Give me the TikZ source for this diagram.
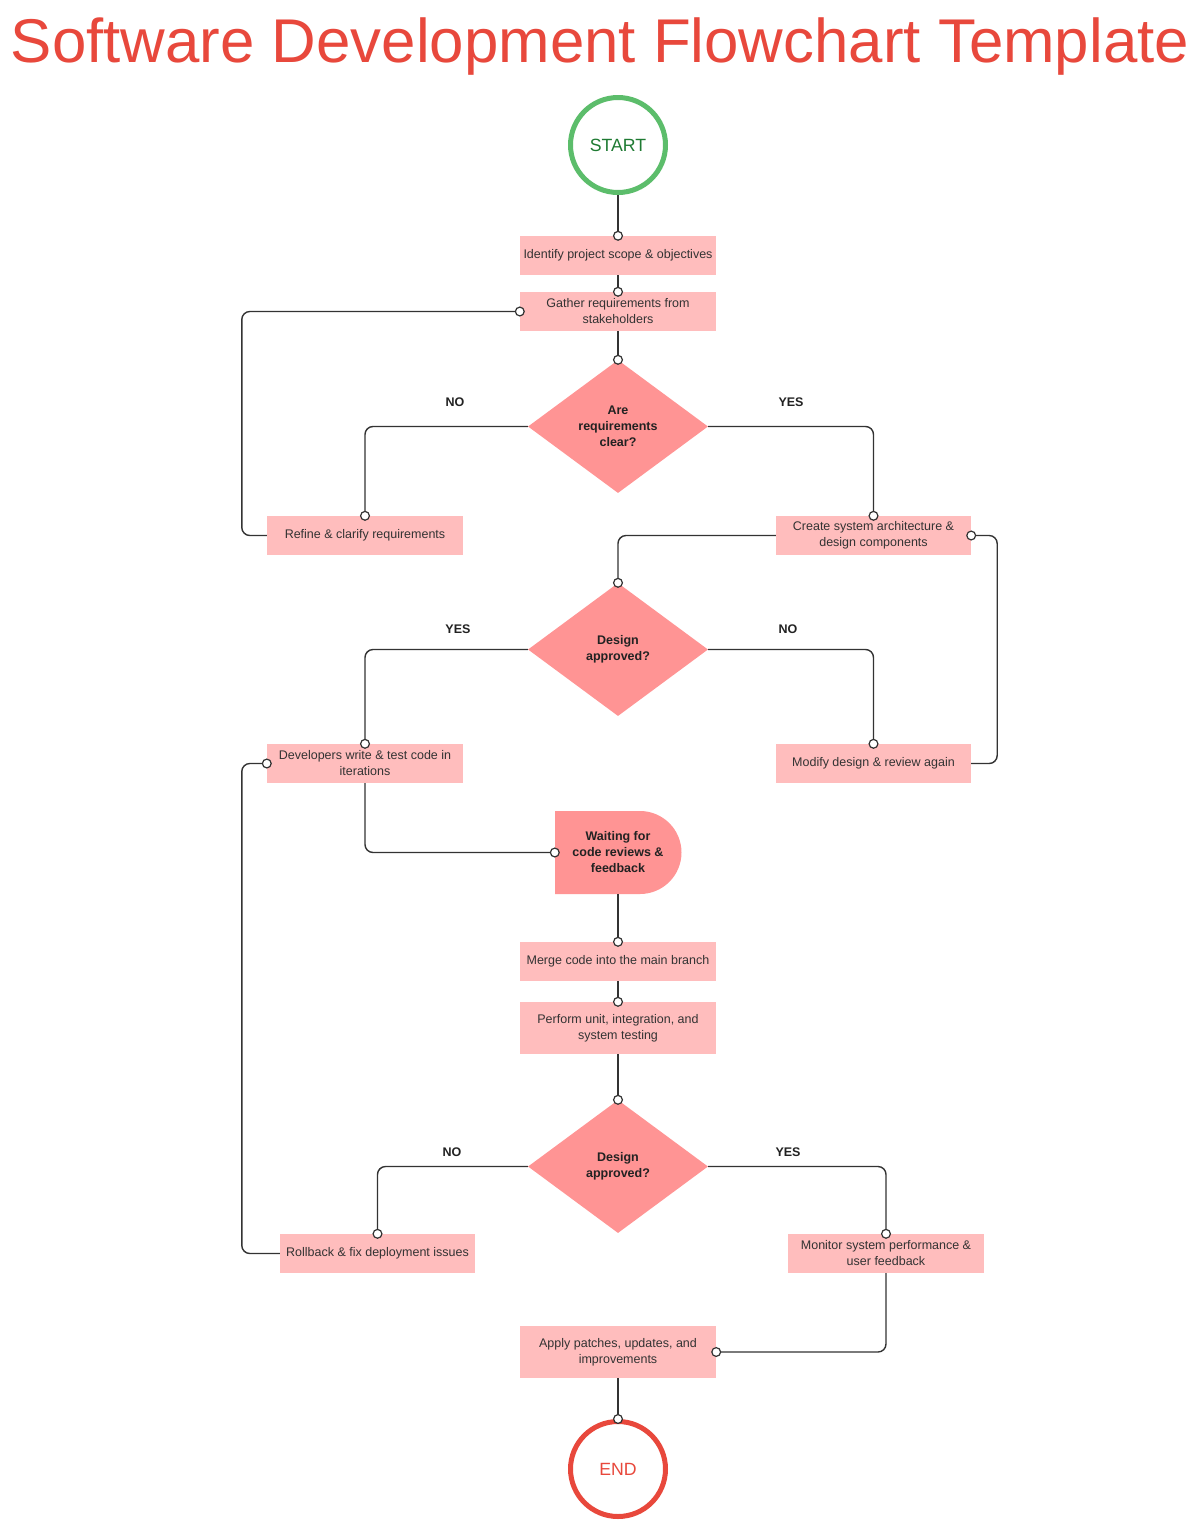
\documentclass[tikz,border=0pt]{standalone}
\usepackage{fontspec}
\setmainfont{Liberation Sans}
\usetikzlibrary{shapes.geometric,arrows.meta}
\definecolor{boxfill}{HTML}{FFBDBD}
\definecolor{decfill}{HTML}{FF9494}
\definecolor{linec}{HTML}{333333}
\definecolor{txt}{HTML}{333333}
\definecolor{dtxt}{HTML}{222222}
\definecolor{startg}{HTML}{5CBD6B}
\definecolor{startt}{HTML}{1E7A32}
\definecolor{endr}{HTML}{E8483C}
\begin{document}
\begin{tikzpicture}[x=1pt,y=-1pt,
 procbox/.style={rectangle, fill=boxfill, minimum width=196pt, minimum height=39pt, inner sep=2pt, align=center, text=txt, font=\fontsize{12.5}{16}\selectfont},
 decbox/.style={diamond, fill=decfill, minimum width=180pt, minimum height=133pt, inner sep=0pt, aspect=1.35, align=center, font=\bfseries\fontsize{12.5}{16}\selectfont, text=dtxt},
 termnode/.style={circle, line width=5pt, minimum size=95pt, inner sep=0pt, font=\fontsize{17.7}{20}\selectfont},
 conn/.style={draw=linec, line width=1.4pt, rounded corners=8pt, -{Circle[fill=white,length=10pt,width=10pt,line width=1.2pt]}, shorten >=-5pt},
 lbl/.style={font=\bfseries\fontsize{12.5}{15}\selectfont, text=dtxt}
]
\useasboundingbox (0,0) rectangle (1200,1524);
\fill[white] (0,0) rectangle (1200,1524);

% title
\node[anchor=base, text=endr, font=\fontsize{61.8}{70}\selectfont, inner sep=0pt] (title) at (600,62) {Software Development Flowchart Template};

% terminals
\node[termnode, draw=startg, text=startt] (start) at (618,145) {START};
\node[termnode, draw=endr, text=endr] (end) at (618,1469) {END};

% process boxes
\node[procbox] (b1) at (618,255.5) {Identify project scope \& objectives};
\node[procbox] (b2) at (618,311.5) {Gather requirements from\\stakeholders};
\node[procbox] (b3) at (365,535.5) {Refine \& clarify requirements};
\node[procbox, minimum width=195pt] (b4) at (873.5,535.5) {Create system architecture \&\\design components};
\node[procbox] (b5) at (365,763.5) {Developers write \& test code in\\iterations};
\node[procbox, minimum width=195pt] (b6) at (873.5,763.5) {Modify design \& review again};
\node[procbox] (b7) at (618,961.5) {Merge code into the main branch};
\node[procbox, minimum height=52pt] (b8) at (618,1028) {Perform unit, integration, and\\system testing};
\node[procbox, minimum width=195pt] (b9) at (377.5,1253.5) {Rollback \& fix deployment issues};
\node[procbox] (b10) at (886,1253.5) {Monitor system performance \&\\user feedback};
\node[procbox, minimum height=52pt] (b11) at (618,1352) {Apply patches, updates, and\\improvements};

% decisions
\node[decbox] (d1) at (618,426.5) {Are\\requirements\\clear?};
\node[decbox] (d2) at (618,649.5) {Design\\approved?};
\node[decbox] (d3) at (618,1166.5) {Design\\approved?};

% delay shape
\fill[decfill] (555,811) -- (640,811) arc[start angle=-90,end angle=90,radius=41.5] -- (555,894) -- cycle;
\node[rectangle, minimum width=126pt, minimum height=83pt, inner sep=0pt, align=center, font=\bfseries\fontsize{12.5}{16}\selectfont, text=dtxt] (wait) at (618,852.5) {Waiting for\\code reviews \&\\feedback};

% labels
\node[lbl] (l1) at (455,402) {NO};
\node[lbl] (l2) at (791,402) {YES};
\node[lbl] (l3) at (458,629) {YES};
\node[lbl] (l4) at (788,629) {NO};
\node[lbl] (l5) at (452,1152) {NO};
\node[lbl] (l6) at (788,1152) {YES};

% connectors
\draw[conn] (start.south) -- (b1.north);
\draw[conn] (b1.south) -- (b2.north);
\draw[conn] (b2.south) -- (d1.north);
\draw[conn] (d1.west) -| (b3.north);
\draw[conn] (d1.east) -| (b4.north);
\draw[conn] (b3.west) -- ++(-25,0) |- (b2.west);
\draw[conn] (b4.west) -| (d2.north);
\draw[conn] (d2.west) -| (b5.north);
\draw[conn] (d2.east) -| (b6.north);
\draw[conn] (b6.east) -- ++(26,0) |- (b4.east);
\draw[conn] (b5.south) |- (wait.west);
\draw[conn] (wait.south) -- (b7.north);
\draw[conn] (b7.south) -- (b8.north);
\draw[conn] (b8.south) -- (d3.north);
\draw[conn] (d3.west) -| (b9.north);
\draw[conn] (d3.east) -| (b10.north);
\draw[conn] (b9.west) -- ++(-38,0) |- (b5.west);
\draw[conn] (b10.south) |- (b11.east);
\draw[conn] (b11.south) -- (end.north);
\end{tikzpicture}
\end{document}
